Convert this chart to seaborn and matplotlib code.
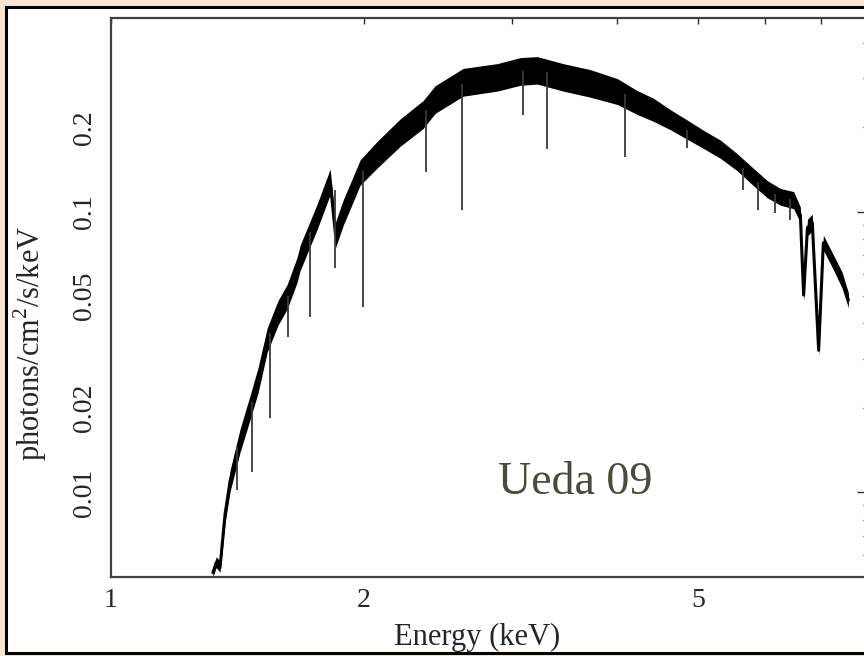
import matplotlib
matplotlib.use("Agg")
import matplotlib.pyplot as plt
import seaborn as sns
import pandas as pd
from matplotlib.patches import Rectangle
from matplotlib.ticker import FixedLocator, NullFormatter, FixedFormatter

# ---- data ----
energy_keV = [1.322, 1.334, 1.348, 1.367, 1.386, 1.424, 1.464, 1.496, 1.534, 1.580,
              1.620, 1.665, 1.679, 1.759, 1.823, 1.850, 1.889, 1.979, 2.073, 2.208,
              2.352, 2.430, 2.624, 2.881, 3.068, 3.215, 3.452, 3.716, 4.004, 4.229,
              4.418, 4.630, 4.851, 5.070, 5.310, 5.560, 5.810, 6.040, 6.260, 6.490,
              6.610, 6.670, 6.740, 6.830, 6.950, 7.040, 7.240, 7.410, 7.540]
flux = [0.00518, 0.00562, 0.0054, 0.0084, 0.0110, 0.0153, 0.0201, 0.0251, 0.0349, 0.0436,
        0.0497, 0.0620, 0.0685, 0.0960, 0.128, 0.0828, 0.0991, 0.138, 0.160, 0.1915,
        0.222, 0.251, 0.289, 0.301, 0.316, 0.319, 0.301, 0.287, 0.268, 0.245,
        0.231, 0.213, 0.196, 0.181, 0.167, 0.150, 0.133, 0.120, 0.113, 0.110,
        0.0975, 0.0505, 0.0877, 0.0914, 0.0321, 0.0775, 0.0658, 0.0571, 0.0485]
flux_hi = [0.0054, 0.0059, 0.0057, 0.0090, 0.0120, 0.0168, 0.0222, 0.0278, 0.0385, 0.0482,
           0.0550, 0.0688, 0.0760, 0.1065, 0.1420, 0.0920, 0.1100, 0.1530, 0.1780, 0.2140,
           0.2490, 0.2810, 0.3240, 0.3370, 0.3540, 0.3570, 0.3370, 0.3210, 0.2980, 0.2700,
           0.2540, 0.2310, 0.2120, 0.1950, 0.1800, 0.1610, 0.1430, 0.1290, 0.1210, 0.1180,
           0.1040, 0.0530, 0.0940, 0.0980, 0.0335, 0.0825, 0.0700, 0.0610, 0.0515]
flux_lo = [0.0050, 0.0054, 0.0052, 0.0078, 0.0101, 0.0139, 0.0182, 0.0226, 0.0316, 0.0394,
           0.0450, 0.0560, 0.0617, 0.0865, 0.1150, 0.0745, 0.0893, 0.1243, 0.1430, 0.1710,
           0.1980, 0.2240, 0.2580, 0.2690, 0.2820, 0.2850, 0.2690, 0.2560, 0.2410, 0.2220,
           0.2100, 0.1960, 0.1810, 0.1680, 0.1550, 0.1400, 0.1240, 0.1120, 0.1055, 0.1025,
           0.0915, 0.0480, 0.0820, 0.0855, 0.0308, 0.0730, 0.0620, 0.0535, 0.0455]

# narrow absorption lines: energy, continuum level, bottom of the line
line_energy = [1.413, 1.472, 1.546, 1.624, 1.726, 1.848, 1.995, 2.371, 2.618,
               3.094, 3.304, 4.090, 4.850, 5.650, 5.890, 6.170, 6.430]
line_top = [0.0145, 0.021, 0.037, 0.050, 0.085, 0.12, 0.14, 0.23, 0.285,
            0.316, 0.315, 0.262, 0.196, 0.143, 0.128, 0.116, 0.111]
line_depth = [0.0102, 0.0118, 0.0184, 0.0358, 0.0422, 0.0631, 0.0458, 0.138, 0.1017,
              0.222, 0.167, 0.157, 0.169, 0.120, 0.1017, 0.099, 0.0936]

x_tick_values = [1, 2, 5]
x_tick_labels = ["1", "2", "5"]
x_minor_values = [3, 4, 6, 7]
y_tick_values = [0.01, 0.02, 0.05, 0.1, 0.2]
y_tick_labels = ["0.01", "0.02", "0.05", "0.1", "0.2"]
y_minor_values = [0.005, 0.006, 0.007, 0.008, 0.009, 0.03, 0.04,
                  0.06, 0.07, 0.08, 0.09, 0.3, 0.4]
x_label = "Energy (keV)"
y_label = "photons/cm$^2$/s/keV"
note_text = "Ueda 09"

# ---- style ----
sns.set_theme(style="white")
plt.rcParams["font.family"] = ["Liberation Serif", "DejaVu Serif"]
plt.rcParams["mathtext.fontset"] = "custom"
plt.rcParams["mathtext.rm"] = "Liberation Serif"

W, H = 864, 656
fig = plt.figure(figsize=(W / 100, H / 100), dpi=100)
fig.patch.set_facecolor("#f6e5cf")

# white slide panel with black border
panel = Rectangle((5.5 / W, 3.0 / H), 1.2, (653 - 7) / H,
                  transform=fig.transFigure, facecolor="white",
                  edgecolor="black", linewidth=2.2, zorder=-10)
fig.patches.append(panel)

ax_left, ax_right, ax_top, ax_bottom = 111, 870, 18, 577
ax = fig.add_axes([ax_left / W, (H - ax_bottom) / H,
                   (ax_right - ax_left) / W, (ax_bottom - ax_top) / H])
ax.set_zorder(5)
ax.set_facecolor("none")
ax.set_xscale("log")
ax.set_yscale("log")

df = pd.DataFrame({"energy": energy_keV, "flux": flux})
ax.fill_between(energy_keV, flux_lo, flux_hi, color="black", linewidth=0)
sns.lineplot(data=df, x="energy", y="flux", ax=ax, color="black",
             linewidth=2.2, estimator=None, sort=False)
ax.vlines(line_energy, line_depth, line_top, color="#3a3a3a", linewidth=1.3)

ax.set_xlim(1, 8)
ax.set_ylim(0.005, 0.49)

ax.xaxis.set_major_locator(FixedLocator(x_tick_values))
ax.xaxis.set_major_formatter(FixedFormatter(x_tick_labels))
ax.xaxis.set_minor_locator(FixedLocator(x_minor_values))
ax.xaxis.set_minor_formatter(NullFormatter())
ax.yaxis.set_major_locator(FixedLocator(y_tick_values))
ax.yaxis.set_major_formatter(FixedFormatter(y_tick_labels))
ax.yaxis.set_minor_locator(FixedLocator(y_minor_values))
ax.yaxis.set_minor_formatter(NullFormatter())

for s in ax.spines.values():
    s.set_color("#404040")
    s.set_linewidth(1.6)

ax.tick_params(which="both", direction="in", top=True, right=True,
               color="#303030", width=1.0)
ax.tick_params(axis="y", which="major", length=9.5, labelsize=20, pad=10,
               labelrotation=90)
ax.tick_params(axis="y", which="minor", length=5)
ax.tick_params(axis="x", which="major", length=4.5, labelsize=20, pad=8)
ax.tick_params(axis="x", which="minor", length=4)
for lbl in ax.get_yticklabels():
    lbl.set_va("center")

fig.canvas.draw()
for val, t in zip(y_tick_values, ax.yaxis.get_major_ticks()):
    if val not in (0.01, 0.1):
        t.tick1line.set_markersize(5)
        t.tick2line.set_markersize(5)

ax.set_xlabel(x_label, fontsize=22)
ax.set_ylabel(y_label, fontsize=22)
ax.xaxis.set_label_coords((477 - ax_left) / (ax_right - ax_left),
                          (ax_bottom - 637) / (ax_bottom - ax_top))
ax.yaxis.set_label_coords((30 - ax_left) / (ax_right - ax_left),
                          (ax_bottom - 343) / (ax_bottom - ax_top))
ax.xaxis.label.set_va("center")
ax.yaxis.label.set_va("center")

fig.text(575 / W, 1 - 483 / H, note_text, fontsize=33, color="#4b4b3c",
         ha="center", va="center", family=["Liberation Serif", "DejaVu Serif"],
         zorder=10)

fig.savefig("out.png", dpi=100, facecolor=fig.get_facecolor())
